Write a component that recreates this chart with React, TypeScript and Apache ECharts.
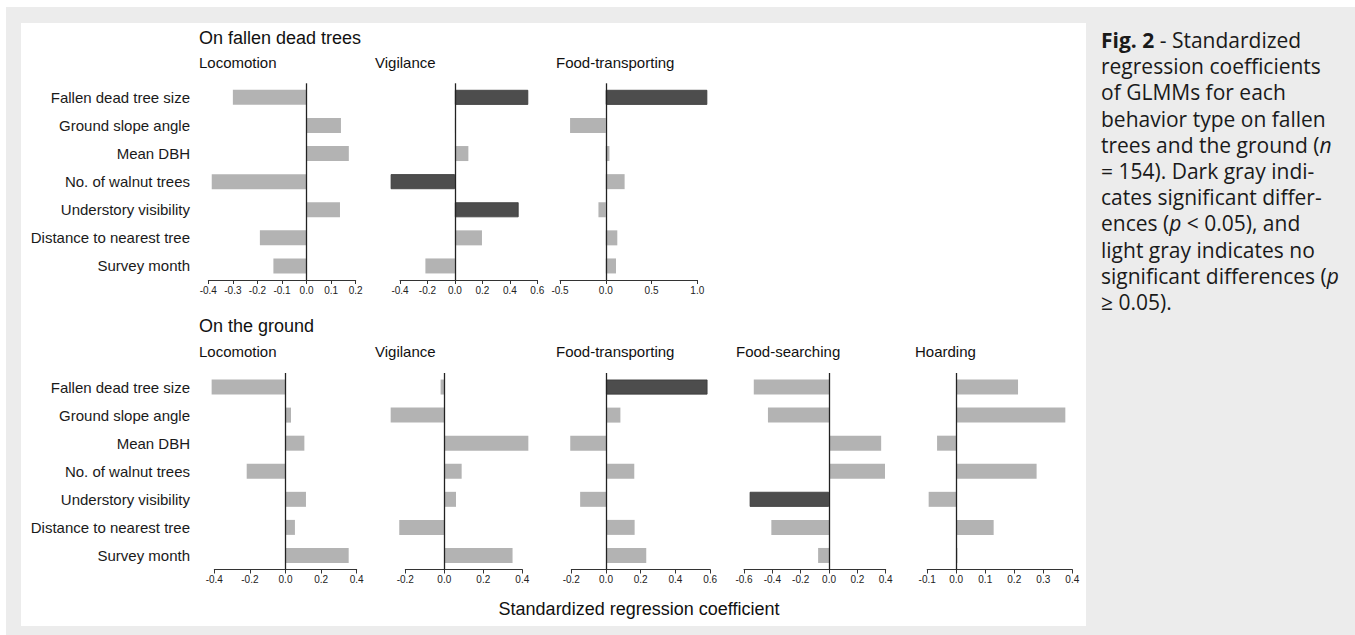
import React, { useEffect, useRef } from "react";
import * as echarts from "echarts";

const categories = [
  "Fallen dead tree size",
  "Ground slope angle",
  "Mean DBH",
  "No. of walnut trees",
  "Understory visibility",
  "Distance to nearest tree",
  "Survey month",
];

// On fallen dead trees
const fallenLocomotion = [-0.3, 0.14, 0.172, -0.386, 0.136, -0.19, -0.135];
const fallenVigilance = [0.534, 0.005, 0.098, -0.468, 0.464, 0.197, -0.215];
const fallenFoodTransporting = [1.109, -0.39, 0.04, 0.206, -0.08, 0.126, 0.112];

// On the ground
const groundLocomotion = [-0.415, 0.031, 0.106, -0.218, 0.115, 0.053, 0.355];
const groundVigilance = [-0.019, -0.275, 0.431, 0.089, 0.06, -0.231, 0.35];
const groundFoodTransporting = [0.585, 0.083, -0.206, 0.163, -0.149, 0.165, 0.232];
const groundFoodSearching = [-0.531, -0.431, 0.368, 0.395, -0.56, -0.407, -0.077];
const groundHoarding = [0.213, 0.376, -0.066, 0.277, -0.095, 0.129, 0.004];

// significance (1 = p < 0.05, dark gray)
const sigFallenLocomotion = [0, 0, 0, 0, 0, 0, 0];
const sigFallenVigilance = [1, 0, 0, 1, 1, 0, 0];
const sigFallenFoodTransporting = [1, 0, 0, 0, 0, 0, 0];
const sigGroundLocomotion = [0, 0, 0, 0, 0, 0, 0];
const sigGroundVigilance = [0, 0, 0, 0, 0, 0, 0];
const sigGroundFoodTransporting = [1, 0, 0, 0, 0, 0, 0];
const sigGroundFoodSearching = [0, 0, 0, 0, 1, 0, 0];
const sigGroundHoarding = [0, 0, 0, 0, 0, 0, 0];

// axis ranges [min, max, interval]
const axisFallenLocomotion = [-0.4, 0.2, 0.1];
const axisFallenVigilance = [-0.4, 0.6, 0.2];
const axisFallenFoodTransporting = [-0.5, 1.0, 0.5];
const axisGroundLocomotion = [-0.4, 0.4, 0.2];
const axisGroundVigilance = [-0.2, 0.4, 0.2];
const axisGroundFoodTransporting = [-0.2, 0.6, 0.2];
const axisGroundFoodSearching = [-0.6, 0.4, 0.2];
const axisGroundHoarding = [-0.1, 0.4, 0.1];

const rowTitles = ["On fallen dead trees", "On the ground"];
const axisTitle = "Standardized regression coefficient";

const captionLines = [
  "{b|Fig. 2} - Standardized",
  "regression coefficients",
  "of GLMMs for each",
  "behavior type on fallen",
  "trees and the ground ({i|n}",
  "= 154). Dark gray indi-",
  "cates significant differ-",
  "ences ({i|p} < 0.05), and",
  "light gray indicates no",
  "significant differences ({i|p}",
  "≥ 0.05).",
];

const LIGHT = "#b3b3b3";
const DARK = "#4d4d4d";
const FONT = "'Liberation Sans', Arial, Helvetica, sans-serif";
const CAPFONT = "'Open Sans', 'Noto Sans', sans-serif";
const CAPSIZE = 21;

const panels = [
  { title: "Locomotion", values: fallenLocomotion, sig: sigFallenLocomotion, axis: axisFallenLocomotion, left: 208.3, right: 355.7, titleX: 199, row: 0, labels: true },
  { title: "Vigilance", values: fallenVigilance, sig: sigFallenVigilance, axis: axisFallenVigilance, left: 400, right: 537.3, titleX: 375, row: 0, labels: false },
  { title: "Food-transporting", values: fallenFoodTransporting, sig: sigFallenFoodTransporting, axis: axisFallenFoodTransporting, left: 560, right: 697.3, titleX: 556, row: 0, labels: false },
  { title: "Locomotion", values: groundLocomotion, sig: sigGroundLocomotion, axis: axisGroundLocomotion, left: 214.3, right: 356.7, titleX: 199, row: 1, labels: true },
  { title: "Vigilance", values: groundVigilance, sig: sigGroundVigilance, axis: axisGroundVigilance, left: 405.3, right: 522.3, titleX: 375, row: 1, labels: false },
  { title: "Food-transporting", values: groundFoodTransporting, sig: sigGroundFoodTransporting, axis: axisGroundFoodTransporting, left: 571.3, right: 710.1, titleX: 556, row: 1, labels: false },
  { title: "Food-searching", values: groundFoodSearching, sig: sigGroundFoodSearching, axis: axisGroundFoodSearching, left: 744, right: 885.7, titleX: 736, row: 1, labels: false },
  { title: "Hoarding", values: groundHoarding, sig: sigGroundHoarding, axis: axisGroundHoarding, left: 927.2, right: 1072.3, titleX: 915, row: 1, labels: false },
];

const rows = [
  { top: 83.3, bottom: 280, titleY: 38, panelTitleY: 62 },
  { top: 373, bottom: 569.5, titleY: 326, panelTitleY: 351 },
];

function buildOption() {
  const grid: any[] = [];
  const xAxis: any[] = [];
  const yAxis: any[] = [];
  const series: any[] = [];
  const graphic: any[] = [];

  graphic.push({ type: "rect", z: -100, shape: { x: 6, y: 7, width: 1349, height: 628 }, style: { fill: "#ececec" }, silent: true });
  graphic.push({ type: "rect", z: -99, shape: { x: 21, y: 23, width: 1065, height: 603 }, style: { fill: "#ffffff" }, silent: true });

  rows.forEach((r, ri) => {
    graphic.push({
      type: "text",
      x: 199,
      y: r.titleY,
      style: { text: rowTitles[ri], fontSize: 18, fontFamily: FONT, fill: "#111", verticalAlign: "middle", align: "left" },
    });
  });

  panels.forEach((p, i) => {
    const r = rows[p.row];
    grid.push({ left: p.left, width: p.right - p.left, top: r.top, height: r.bottom - r.top });
    xAxis.push({
      type: "value",
      gridIndex: i,
      min: p.axis[0],
      max: p.axis[1],
      interval: p.axis[2],
      axisLine: { show: true, lineStyle: { color: "#333", width: 1 } },
      axisTick: { show: true, length: 4, lineStyle: { color: "#333", width: 1 } },
      splitLine: { show: false },
      axisLabel: {
        fontSize: 10,
        fontFamily: FONT,
        color: "#222",
        margin: 5,
        formatter: (v: number) => v.toFixed(1),
      },
    });
    yAxis.push({
      type: "category",
      gridIndex: i,
      data: categories,
      inverse: true,
      axisLine: { show: false },
      axisTick: { show: false },
      axisLabel: {
        show: p.labels,
        fontSize: 15,
        fontFamily: FONT,
        color: "#1a1a1a",
        margin: p.left - 190,
      },
    });
    series.push({
      type: "bar",
      xAxisIndex: i,
      yAxisIndex: i,
      barWidth: 15,
      clip: false,
      data: p.values.map((v, k) => ({
        value: v,
        itemStyle: p.sig[k]
          ? { color: DARK, borderColor: "#3a3a3a", borderWidth: 0.8 }
          : { color: LIGHT },
      })),
      markLine: {
        silent: true,
        symbol: "none",
        label: { show: false },
        lineStyle: { color: "#222", width: 1.3, type: "solid" },
        data: [{ xAxis: 0 }],
      },
    });
    graphic.push({
      type: "text",
      x: p.titleX,
      y: r.panelTitleY,
      style: { text: p.title, fontSize: 15, fontFamily: FONT, fill: "#111", verticalAlign: "middle", align: "left" },
    });
  });

  graphic.push({
    type: "text",
    x: 639,
    y: 609,
    style: { text: axisTitle, fontSize: 18, fontFamily: FONT, fill: "#111", verticalAlign: "middle", align: "center" },
  });

  captionLines.forEach((line, k) => {
    graphic.push({
      type: "text",
      x: 1101,
      y: 40 + k * 26.2,
      style: {
        text: line,
        fontSize: CAPSIZE,
        fontFamily: CAPFONT,
        fill: "#1a1a1a",
        verticalAlign: "middle",
        align: "left",
        rich: {
          b: { fontWeight: "bold", fontSize: CAPSIZE, fontFamily: CAPFONT, fill: "#1a1a1a" },
          i: { fontStyle: "italic", fontSize: CAPSIZE, fontFamily: CAPFONT, fill: "#1a1a1a" },
        },
      },
    });
  });

  return { animation: false, grid, xAxis, yAxis, series, graphic };
}

export default function App() {
  const ref = useRef<HTMLDivElement>(null);
  useEffect(() => {
    if (!ref.current) return;
    const chart = echarts.init(ref.current, undefined, { renderer: "svg" });
    chart.setOption(buildOption() as any);
    return () => chart.dispose();
  }, []);
  return (
    <div
      ref={ref}
      style={{ position: "absolute", left: 0, top: 0, width: 1355, height: 635, background: "#ffffff" }}
    />
  );
}
